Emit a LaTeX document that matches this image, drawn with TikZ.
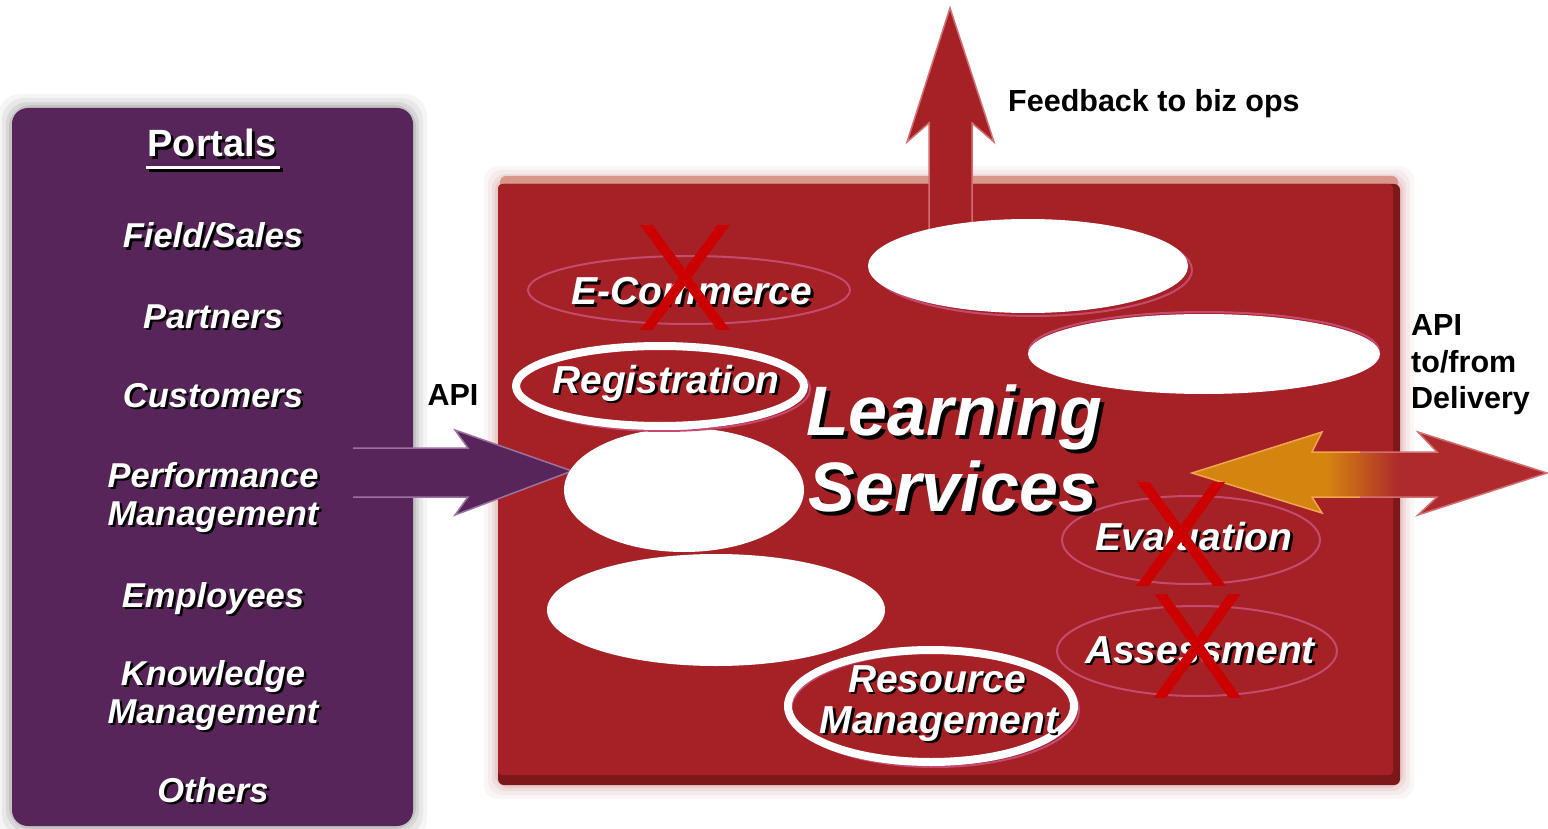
\documentclass[tikz,border=0pt]{standalone}
\usepackage{fontspec}
\setmainfont{Liberation Sans}
\usetikzlibrary{shapes.geometric}
\definecolor{portpurple}{HTML}{57255A}
\definecolor{boxred}{HTML}{A62125}
\definecolor{boxdark}{HTML}{7E1719}
\definecolor{boxtop}{HTML}{D9968A}
\definecolor{xred}{HTML}{CC0000}
\definecolor{ringpink}{HTML}{C44A70}
\definecolor{arrorange}{HTML}{D4850F}
\definecolor{arrred}{HTML}{AE2A2C}
\definecolor{arredge}{HTML}{D27070}
\definecolor{orangeedge}{HTML}{F2A550}
\definecolor{purpedge}{HTML}{9C72A3}
\pgfdeclarehorizontalshading{orangered}{100bp}{color(0bp)=(arrorange); color(44bp)=(arrorange); color(54bp)=(arrred); color(100bp)=(arrred)}
\newcommand\shtext[5][2.5]{%
  \node[#3,text=black,xshift=#1pt,yshift=-#1pt] at (#4) {#5};
  \node[#3,text=white] (#2) at (#4) {#5};}
\newcommand\xmark[4]{%
  \begin{scope}
    \clip ({#1-#4-30},#2) rectangle ({#1+#4+30},#3);
    \draw[cross] ({#1-#4*1.3},{#2-(#3-#2)*0.15}) -- ({#1+#4*1.3},{#3+(#3-#2)*0.15});
    \draw[cross] ({#1+#4*1.3},{#2-(#3-#2)*0.15}) -- ({#1-#4*1.3},{#3+(#3-#2)*0.15});
  \end{scope}}
\tikzset{
  head/.style={font=\fontsize{38}{40}\selectfont\bfseries, inner sep=0pt, anchor=base},
  item/.style={font=\fontsize{34.5}{36}\selectfont\bfseries\itshape, inner sep=0pt, anchor=base},
  svc/.style={font=\fontsize{39}{41}\selectfont\bfseries\itshape, inner sep=0pt, anchor=base},
  big/.style={font=\fontsize{70}{72}\selectfont\bfseries\itshape, inner sep=0pt, anchor=base, text height=50pt, text depth=6pt},
  note/.style={font=\fontsize{30.5}{32}\selectfont\bfseries, inner sep=0pt, text=black, anchor=base west},
  thinring/.style={ellipse, draw=ringpink, line width=2pt, inner sep=0pt},
  thickring/.style={ellipse, draw=white, line width=8pt, inner sep=0pt},
  blank/.style={ellipse, fill=white, inner sep=0pt},
  cross/.style={draw=xred, line width=10pt},
}
\begin{document}
\begin{tikzpicture}[x=1pt,y=-1pt]
\useasboundingbox (0,0) rectangle (1548,829);
\fill[white] (0,0) rectangle (1548,829);
% glows
\foreach \d/\o in {14/0.04,10/0.05,6/0.07,3/0.09}{
  \fill[black,opacity=\o,rounded corners=22] (12-\d,108-\d) rectangle (413+\d,826+\d);
  \fill[boxred,opacity=\o,rounded corners=14] (498-\d,180-\d) rectangle (1400+\d,785+\d);
}
% portals box
\fill[portpurple,rounded corners=16] (12,108) rectangle (413,826);
% learning services box
\fill[boxtop,rounded corners=6] (500,176) rectangle (1398,190);
\fill[boxdark,rounded corners=6] (498,184) rectangle (1400,785);
\fill[boxred,rounded corners=4] (498,184) rectangle (1393,775);
% up arrow
\filldraw[fill=boxred,draw=arredge,line width=1.5pt] (929,240) -- (929,123) -- (907,142) -- (950,8) -- (994,142) -- (972,123) -- (972,240);
% API arrow from portals
\fill[portpurple] (353,448) -- (468,448) -- (455,430) -- (572,471) -- (455,515) -- (468,497) -- (353,497) -- cycle;
\draw[purpedge,line width=1.5pt] (353,448) -- (468,448) -- (455,430) -- (572,471) -- (455,515) -- (468,497) -- (353,497);
% delivery double arrow
\path[shading=orangered] (1192,473) -- (1322,432) -- (1312,452) -- (1437,452) -- (1418,432) -- (1547,473) -- (1418,515) -- (1437,497) -- (1312,497) -- (1322,513) -- cycle;
\begin{scope}
  \clip (1180,420) rectangle (1360,530);
  \draw[orangeedge,line width=1.5pt] (1192,473) -- (1322,432) -- (1312,452) -- (1437,452) -- (1418,432) -- (1547,473) -- (1418,515) -- (1437,497) -- (1312,497) -- (1322,513) -- cycle;
\end{scope}
\begin{scope}
  \clip (1360,420) rectangle (1548,530);
  \draw[arredge,line width=1.5pt] (1192,473) -- (1322,432) -- (1312,452) -- (1437,452) -- (1418,432) -- (1547,473) -- (1418,515) -- (1437,497) -- (1312,497) -- (1322,513) -- cycle;
\end{scope}
% blank ellipses
\node[thinring,minimum width=318,minimum height=92] (b1h) at (1033,270) {};
\node[blank,minimum width=320,minimum height=94] (b1) at (1028,266) {};
\node[thinring,minimum width=350,minimum height=78] (b2h) at (1204,351) {};
\node[blank,minimum width=352,minimum height=80] (b2) at (1204,354) {};
\node[blank,minimum width=240,minimum height=124] (b3) at (684,490) {};
\node[blank,minimum width=338,minimum height=112] (b4) at (716,610) {};
% rings
\node[thinring,minimum width=322,minimum height=68] (ecom) at (689,290) {};
\node[thinring,minimum width=292,minimum height=84] (regh) at (664,389) {};
\node[thickring,minimum width=288,minimum height=80] (reg) at (660,386) {};
\node[thinring,minimum width=258,minimum height=88] (eval) at (1191,540) {};
\node[thinring,minimum width=280,minimum height=90] (asmt) at (1197,651) {};
\node[thinring,minimum width=288,minimum height=114] (resh) at (935,710) {};
\node[thickring,minimum width=286,minimum height=112] (res) at (931,706) {};
% portal texts
\shtext{ptitle}{head}{212,157}{Portals}
\draw[black,line width=3.5pt] (148.5,170) -- (282.5,170);
\draw[white,line width=3.5pt] (146,167.5) -- (280,167.5);
\shtext{pfield}{item}{213,248}{Field/Sales}
\shtext{ppart}{item}{213,328}{Partners}
\shtext{pcust}{item}{213,407}{Customers}
\shtext{pperf}{item}{213,487}{Performance}
\shtext{pperm}{item}{213,525}{Management}
\shtext{pempl}{item}{213,607}{Employees}
\shtext{pknow}{item}{213,685}{Knowledge}
\shtext{pknom}{item}{213,723}{Management}
\shtext{poth}{item}{213,802}{Others}
% service texts
\shtext{tecom}{svc}{692,305}{E-Commerce}
\shtext{treg}{svc}{666,393}{Registration}
\shtext{teval}{svc}{1194,550}{Evaluation}
\shtext{tasmt}{svc}{1200,663}{Assessment}
\shtext{tres}{svc}{937,692}{Resource}
\shtext{tresm}{svc}{939,733}{Management}
\shtext[4]{tlearn}{big}{954,435}{Learning}
\shtext[4]{tserv}{big}{953,511}{Services}
% crosses
\xmark{685}{226}{329}{38}
\xmark{1181}{482}{585}{38}
\xmark{1197.5}{594}{697}{37}
% black notes
\node[note] (fb) at (1008,112) {Feedback to biz ops};
\node[note,anchor=base] (apil) at (453,405) {API};
\node[note] (apir1) at (1411,335) {API};
\node[note] (apir2) at (1411,372) {to/from};
\node[note] (apir3) at (1411,408) {Delivery};
\end{tikzpicture}
\end{document}
